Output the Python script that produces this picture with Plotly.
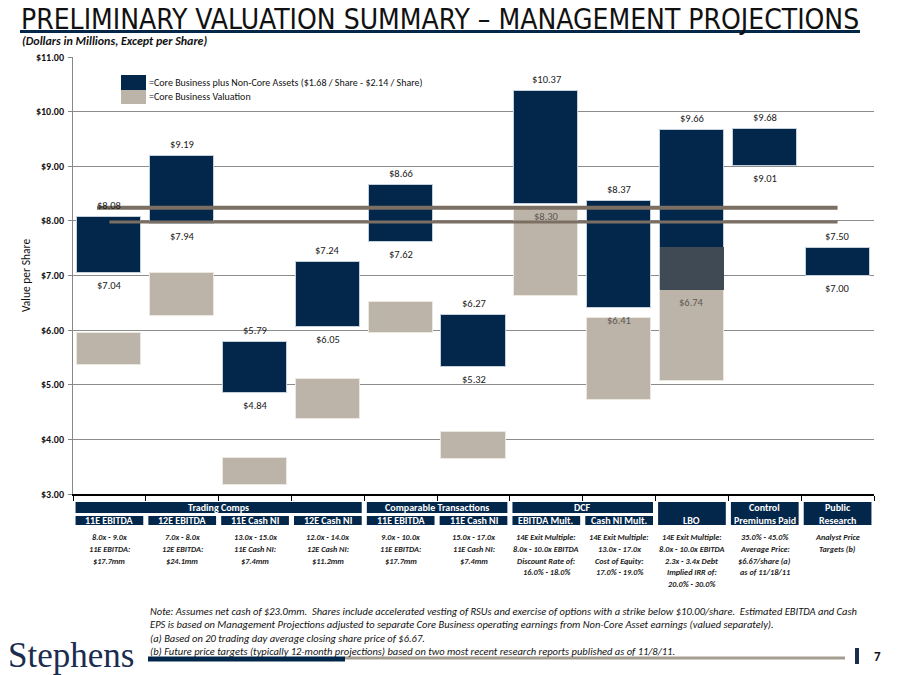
import plotly.graph_objects as go

# ---------------- data ----------------
categories = ["11E EBITDA", "12E EBITDA", "11E Cash NI", "12E Cash NI",
              "11E EBITDA", "11E Cash NI", "EBITDA Mult.", "Cash NI Mult.",
              "LBO", "Control Premiums Paid", "Public Research"]
navy_low = [7.04, 7.94, 4.84, 6.05, 7.62, 5.32, 8.30, 6.41, 6.74, 9.01, 7.00]
navy_high = [8.08, 9.19, 5.79, 7.24, 8.66, 6.27, 10.37, 8.37, 9.66, 9.68, 7.50]
core_low = [5.36, 6.26, 3.16, 4.37, 5.94, 3.64, 6.62, 4.73, 5.06, None, None]
core_high = [5.94, 7.05, 3.65, 5.10, 6.52, 4.13, 8.23, 6.23, 7.52, None, None]
ref_lines = [8.24, 7.98]

groups = [("Trading Comps", 0, 3), ("Comparable Transactions", 4, 5), ("DCF", 6, 7)]
sub_headers = ["11E EBITDA", "12E EBITDA", "11E Cash NI", "12E Cash NI",
               "11E EBITDA", "11E Cash NI", "EBITDA Mult.", "Cash NI Mult."]
tall_headers = [(8, ["LBO"]), (9, ["Control", "Premiums Paid"]), (10, ["Public", "Research"])]
descriptions = [
    ["8.0x - 9.0x", "11E EBITDA:", "$17.7mm"],
    ["7.0x - 8.0x", "12E EBITDA:", "$24.1mm"],
    ["13.0x - 15.0x", "11E Cash NI:", "$7.4mm"],
    ["12.0x - 14.0x", "12E Cash NI:", "$11.2mm"],
    ["9.0x - 10.0x", "11E EBITDA:", "$17.7mm"],
    ["15.0x - 17.0x", "11E Cash NI:", "$7.4mm"],
    ["14E Exit Multiple:", "8.0x - 10.0x EBITDA", "Discount Rate of:", "16.0% - 18.0%"],
    ["14E Exit Multiple:", "13.0x - 17.0x", "Cost of Equity:", "17.0% - 19.0%"],
    ["14E Exit Multiple:", "8.0x - 10.0x EBITDA", "2.3x - 3.4x Debt", "Implied IRR of:", "20.0% - 30.0%"],
    ["35.0% - 45.0%", "Average Price:", "$6.67/share (a)", "as of 11/18/11"],
    ["Analyst Price", "Targets (b)"],
]
notes = [
    "Note: Assumes net cash of $23.0mm.  Shares include accelerated vesting of RSUs and exercise of options with a strike below $10.00/share.  Estimated EBITDA and Cash",
    "EPS is based on Management Projections adjusted to separate Core Business operating earnings from Non-Core Asset earnings (valued separately).",
    "(a) Based on 20 trading day average closing share price of $6.67.",
    "(b) Future price targets (typically 12-month projections) based on two most recent research reports published as of 11/8/11.",
]

# ---------------- style ----------------
NAVY = "#03274a"
GRAY = "#bcb4a9"
SLATE = "#3f4a54"
LINEC = "#7a6f62"
FONT = "Carlito, Lato, sans-serif"
OFF = 8  # page body margin
W, H = 900 - OFF, 675 - OFF
L, R, T, B = 73, 874, 57, 494  # plot area in screen pixels


def px(x):
    return (x - L) / (R - L)


def py(y):
    return (B - y) / (B - T)


xs = list(range(len(categories)))
fig = go.Figure()

fig.add_trace(go.Bar(x=xs, y=[h - l for l, h in zip(navy_low, navy_high)], base=navy_low,
                     width=0.88, marker=dict(color=NAVY, line=dict(color="#c4d0dc", width=1)),
                     hoverinfo="skip", showlegend=False))
gx, gb, gh, ox, ob, oh = [], [], [], [], [], []
for i, (cl, ch, nl) in enumerate(zip(core_low, core_high, navy_low)):
    if cl is None:
        continue
    top = min(ch, nl)
    gx.append(i); gb.append(cl); gh.append(top - cl)
    if ch > nl:
        ox.append(i); ob.append(nl); oh.append(ch - nl)
fig.add_trace(go.Bar(x=gx, y=gh, base=gb, width=0.88,
                     marker=dict(color=GRAY, line=dict(color="#ebe7e1", width=1)),
                     hoverinfo="skip", showlegend=False))
fig.add_trace(go.Bar(x=ox, y=oh, base=ob, width=0.88,
                     marker=dict(color=SLATE, line=dict(width=0)),
                     hoverinfo="skip", showlegend=False))

ann = []
shapes = []


def text(x, y, t, size, color="#111", xanchor="center", yanchor="middle", xref="paper", family=FONT, **kw):
    ann.append(dict(x=x, y=y, xref=xref, yref="paper", text=t, showarrow=False, xanchor=xanchor,
                    yanchor=yanchor, font=dict(family=family, size=size, color=color), **kw))


# value labels
for i, (lo, hi) in enumerate(zip(navy_low, navy_high)):
    ann.append(dict(x=i, y=hi, xref="x", yref="y", text=f"${hi:.2f}", showarrow=False,
                    xanchor="center", yanchor="bottom", yshift=3,
                    font=dict(family=FONT, size=10.5, color="#1a1a1a")))
    ch = core_high[i]
    col = "#5e5850" if (ch is not None and ch > lo - 0.35) else "#1a1a1a"
    ann.append(dict(x=i, y=lo, xref="x", yref="y", text=f"${lo:.2f}", showarrow=False,
                    xanchor="center", yanchor="top", yshift=-4,
                    font=dict(family=FONT, size=10.5, color=col)))

# reference lines
shapes.append(dict(type="line", xref="x", yref="y", x0=-0.17, x1=10.0, y0=ref_lines[0], y1=ref_lines[0],
                   line=dict(color=LINEC, width=4), layer="above"))
shapes.append(dict(type="line", xref="x", yref="y", x0=0.0, x1=10.0, y0=ref_lines[1], y1=ref_lines[1],
                   line=dict(color=LINEC, width=3), layer="above"))

# legend
shapes.append(dict(type="rect", xref="paper", yref="paper", x0=px(121), x1=px(146), y0=py(90), y1=py(75),
                   fillcolor=NAVY, line=dict(width=0)))
shapes.append(dict(type="rect", xref="paper", yref="paper", x0=px(121), x1=px(146), y0=py(104), y1=py(90),
                   fillcolor=GRAY, line=dict(width=0)))
text(px(147), py(82), "=Core Business plus Non-Core Assets ($1.68 / Share - $2.14 / Share)", 10,
     xanchor="left")
text(px(147), py(96), "=Core Business Valuation", 10, xanchor="left")

# table headers
hw = 0.465
HS = 10
for name, a, b in groups:
    shapes.append(dict(type="rect", xref="x", yref="paper", x0=a - hw, x1=b + hw, y0=py(513), y1=py(502),
                       fillcolor=NAVY, line=dict(width=0)))
    text((a + b) / 2, py(507.5), f"<b>{name}</b>", HS, color="white", xref="x")
for i, name in enumerate(sub_headers):
    shapes.append(dict(type="rect", xref="x", yref="paper", x0=i - hw, x1=i + hw, y0=py(525), y1=py(516),
                       fillcolor=NAVY, line=dict(width=0)))
    text(i, py(520.5), f"<b>{name}</b>", HS, color="white", xref="x")
for i, lines in tall_headers:
    shapes.append(dict(type="rect", xref="x", yref="paper", x0=i - hw, x1=i + hw, y0=py(525), y1=py(502),
                       fillcolor=NAVY, line=dict(width=0)))
    if len(lines) == 1:
        text(i, py(520), f"<b>{lines[0]}</b>", HS, color="white", xref="x")
    else:
        text(i, py(508), f"<b>{lines[0]}</b>", HS, color="white", xref="x")
        text(i, py(520), f"<b>{lines[1]}</b>", HS, color="white", xref="x")

# descriptions
for i, lines in enumerate(descriptions):
    for k, line in enumerate(lines):
        text(i, py(537 + 11.8 * k), f"<b><i>{line}</i></b>", 8.2, color="#222", xref="x")

# notes
for k, line in enumerate(notes):
    text(px(148), py(611 + k * 13.5), f"<i>{line}</i>", 10.5, xanchor="left")

# title
text(px(19), py(20), "PRELIMINARY VALUATION SUMMARY \u2013 MANAGEMENT PROJECTIONS", 28,
     xanchor="left", family="Liberation Sans Narrow, DejaVu Sans Condensed, sans-serif")
shapes.append(dict(type="line", xref="paper", yref="paper", x0=px(20), x1=px(860), y0=py(31.5), y1=py(31.5),
                   line=dict(color=NAVY, width=3)))
text(px(20), py(41), "<b><i>(Dollars in Millions, Except per Share)</i></b>", 12, xanchor="left")

# footer
text(px(6), py(655), "Stephens", 35, color="#1b2d4f", xanchor="left",
     family="Liberation Serif, DejaVu Serif, serif")
shapes.append(dict(type="line", xref="paper", yref="paper", x0=px(345), x1=px(845), y0=py(658), y1=py(658),
                   line=dict(color="#a69d91", width=3)))
shapes.append(dict(type="line", xref="paper", yref="paper", x0=px(148), x1=px(345), y0=py(659), y1=py(659),
                   line=dict(color=NAVY, width=5)))
shapes.append(dict(type="line", xref="paper", yref="paper", x0=px(857), x1=px(857), y0=py(648), y1=py(664),
                   line=dict(color="#1b2d4f", width=4)))
text(px(877), py(656), "<b>7</b>", 13)

fig.update_layout(
    width=W, height=H, margin=dict(l=L - OFF, r=W - (R - OFF), t=T - OFF, b=H - (B - OFF)),
    plot_bgcolor="white", paper_bgcolor="white", barmode="overlay", bargap=0,
    annotations=ann, shapes=shapes, showlegend=False,
    xaxis=dict(range=[-0.5, len(categories) - 0.5], tickmode="array",
               tickvals=[i - 0.5 for i in range(len(categories) + 1)], showticklabels=False,
               ticks="outside", ticklen=5, tickcolor="black", showline=True, linecolor="black",
               linewidth=1.5, showgrid=False, zeroline=False, fixedrange=True),
    yaxis=dict(range=[3, 11], dtick=1, tickprefix="$", tickformat=".2f", ticks="outside", ticklen=4,
               tickcolor="#888", showline=True, linecolor="#888", linewidth=1, gridcolor="#8c8c8c",
               gridwidth=1, zeroline=False, ticklabelstandoff=2,
               tickfont=dict(family=FONT, size=10, color="#111", weight="bold"),
               title=dict(text="Value per Share", standoff=2, font=dict(family=FONT, size=11.5, color="#111"))),
)

fig.write_html("out.html")
